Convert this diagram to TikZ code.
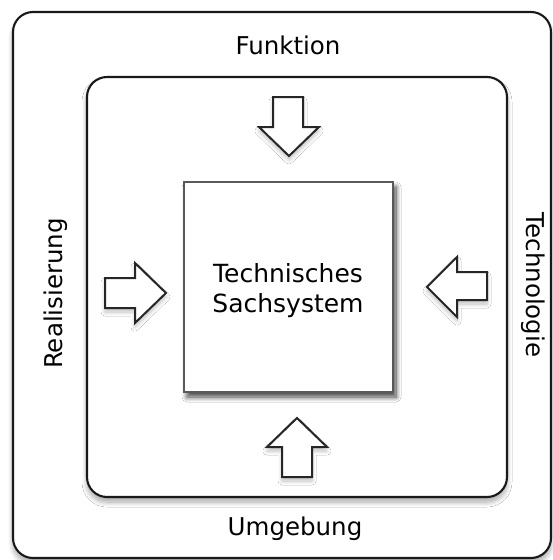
\documentclass[tikz,border=0pt]{standalone}
\usepackage{fontspec}
\setmainfont{DejaVu Sans}
\usetikzlibrary{shadows.blur}
\tikzset{
  frame/.style={draw=black!90, line width=2.1pt, rounded corners=20pt, fill=white,
    blur shadow={shadow xshift=0pt, shadow yshift=-5pt, shadow blur steps=10, shadow blur radius=5pt, shadow opacity=35}},
  core/.style={draw=black!65, line width=1.6pt, fill=white,
    blur shadow={shadow xshift=3pt, shadow yshift=-5pt, shadow blur steps=10, shadow blur radius=5pt, shadow opacity=75}},
  bigarrow/.style={draw=black!85, line width=2pt, fill=white, line join=miter,
    blur shadow={shadow xshift=0pt, shadow yshift=-4pt, shadow blur steps=8, shadow blur radius=4pt, shadow opacity=25}},
  lbl/.style={font=\fontsize{24.5}{29}\selectfont, inner sep=0pt, anchor=base},
  ctext/.style={font=\fontsize{25}{30}\selectfont, align=center, inner sep=0pt}
}
\begin{document}
\begin{tikzpicture}[x=1pt, y=-1pt]
\useasboundingbox (0,0) rectangle (553,560);
\begin{scope}
\clip (0,0) rectangle (553,560);
\path[frame] (13,12) rectangle (551,558);
\end{scope}
\path[frame] (87,77) rectangle (507,497);
\path[core] (184,182) rectangle (393,392);
\node[ctext] (core) at (288,291) {Technisches\\Sachsystem};
% labels
\node[lbl] (fk) at (288,54) {Funktion};
\node[lbl] (ug) at (295,535) {Umgebung};
\node[lbl, rotate=90] (rl) at (62,293.5) {Realisierung};
\node[lbl, rotate=-90] (tc) at (526,285) {Technologie};
% arrows
\path[bigarrow] (273,97) -- (303,97) -- (303,127) -- (319,127) -- (289,156) -- (259,127) -- (273,127) -- cycle;
\path[bigarrow] (105,278) -- (135,278) -- (135,263) -- (166,293) -- (135,323) -- (135,308) -- (105,308) -- cycle;
\path[bigarrow] (487,272) -- (457,272) -- (457,257) -- (427,287) -- (457,317) -- (457,300) -- (487,300) -- cycle;
\path[bigarrow] (282,477) -- (282,447) -- (267,447) -- (297,418) -- (327,447) -- (312,447) -- (312,477) -- cycle;
\end{tikzpicture}
\end{document}
